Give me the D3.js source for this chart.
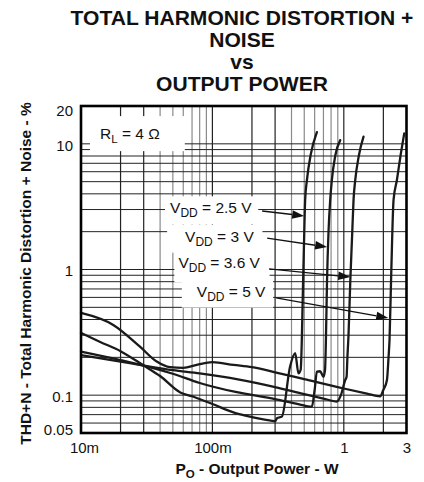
<!DOCTYPE html>
<html><head><meta charset="utf-8">
<script src="https://cdn.jsdelivr.net/npm/d3@7"></script>
<style>
body{margin:0;background:#fff}
svg{display:block}
text{font-family:"Liberation Sans",Arial,Helvetica,sans-serif;fill:#111}
</style>
</head><body><div id="chart"></div>
<script>
// ---------- data ----------
const titleLines = ["TOTAL HARMONIC DISTORTION +", "NOISE", "vs", "OUTPUT POWER"];
const xTickValues = [0.01, 0.1, 1, 3];
const xTickLabels = ["10m", "100m", "1", "3"];
const yTickValues = [0.05, 0.1, 1, 10, 20];
const yTickLabels = ["0.05", "0.1", "1", "10", "20"];
const xAxisMain = "P";
const xAxisSub = "O";
const xAxisRest = " - Output Power - W";
const yAxisTitle = "THD+N - Total Harmonic Distortion + Noise - %";
const loadLabel = ["R", "L", " = 4 \u03A9"];

const seriesVdd = ["2.5 V", "3 V", "3.6 V", "5 V"];

const power_2_5 = [0.01, 0.014, 0.02, 0.03, 0.04, 0.057, 0.07, 0.1, 0.15, 0.2, 0.25, 0.3, 0.31, 0.338, 0.39, 0.4265, 0.452, 0.47, 0.478, 0.487, 0.497, 0.508, 0.524, 0.56, 0.624];
const thd_2_5   = [0.313, 0.265, 0.224, 0.172, 0.142, 0.105, 0.098, 0.085, 0.072, 0.067, 0.064, 0.062, 0.0655, 0.0675, 0.169, 0.216, 0.149, 0.16, 0.25, 0.6, 1.5, 3.58, 5.15, 8.2, 12.4];

const power_3 = [0.01, 0.02, 0.03, 0.05, 0.08, 0.15, 0.3, 0.45, 0.571, 0.6, 0.624, 0.661, 0.70, 0.72, 0.732, 0.745, 0.765, 0.788, 0.811, 0.86, 0.939];
const thd_3   = [0.222, 0.19, 0.172, 0.148, 0.125, 0.106, 0.093, 0.085, 0.081, 0.11, 0.154, 0.155, 0.14, 0.16, 0.3, 0.8, 2, 3.58, 5.15, 8, 10.7];

const power_3_6 = [0.01, 0.02, 0.03, 0.05, 0.08, 0.16, 0.3, 0.5, 0.7, 0.885, 0.95, 1.025, 1.05, 1.065, 1.086, 1.12, 1.16, 1.186, 1.222, 1.3, 1.413];
const thd_3_6   = [0.208, 0.185, 0.172, 0.158, 0.149, 0.133, 0.116, 0.102, 0.094, 0.089, 0.1, 0.132, 0.14, 0.2, 0.3, 0.8, 2, 3.58, 5.15, 8, 11.4];

const power_5 = [0.01, 0.0176, 0.0281, 0.0377, 0.0476, 0.06, 0.076, 0.1, 0.145, 0.2, 0.3, 0.5, 1, 1.5, 1.89, 2.0, 2.13, 2.19, 2.228, 2.3, 2.391, 2.536, 2.7, 2.884];
const thd_5   = [0.451, 0.362, 0.243, 0.185, 0.167, 0.165, 0.174, 0.183, 0.174, 0.167, 0.152, 0.134, 0.113, 0.103, 0.098, 0.11, 0.132, 0.2, 0.275, 1, 3.58, 5.15, 8, 12.1];

// annotation anchors (data units)
const labelP = [0.0476, 0.062, 0.0551, 0.0761];
const labelT = [2.8, 1.666, 1.022, 0.608];
const arrowFromP = [0.239, 0.261, 0.270, 0.3056];
const arrowFromT = [2.92, 1.78, 1.01, 0.594];
const arrowToP = [0.4994, 0.747, 1.119, 2.18];
const arrowToT = [2.67, 1.51, 0.872, 0.412];
const loadLabelP = 0.01395;
const loadLabelT = 10.9;

// ---------- layout ----------
const W = 424, H = 482;
const plot = {left: 81, right: 406.5, top: 106, bottom: 433};
const svg = d3.select("#chart").append("svg").attr("width", W).attr("height", H);

const x = d3.scaleLog().domain([0.01, 3]).range([plot.left, plot.right]);
const y = d3.scaleLog().domain([0.05, 20]).range([plot.bottom, plot.top]);

// title
const titleCx = 242;
svg.append("g").selectAll("text").data(titleLines).join("text")
  .attr("transform", (d, i) => `translate(${titleCx},${24.8 + i * 21.9}) scale(1.08,1)`)
  .attr("text-anchor", "middle").attr("font-weight", "bold").attr("font-size", 19.5)
  .text(d => d);

// grid
const gGrid = svg.append("g");
const isMajorX = v => { const m = Math.round(v / Math.pow(10, Math.floor(Math.log10(v) + 1e-9))); return m === 1 || m === 2 || m === 3; };
gGrid.selectAll("line.vx").data(x.ticks().filter(v => v > 0.0100001 && v < 2.9999)).join("line")
  .attr("x1", d => x(d)).attr("x2", d => x(d)).attr("y1", plot.top).attr("y2", plot.bottom)
  .attr("stroke", d => isMajorX(d) ? "#222" : "#8a8a8a").attr("stroke-width", 1.2);
gGrid.selectAll("line.hy").data(y.ticks().filter(v => v > 0.0500001 && v < 19.999)).join("line")
  .attr("x1", plot.left).attr("x2", plot.right).attr("y1", d => y(d)).attr("y2", d => y(d))
  .attr("stroke", "#222").attr("stroke-width", 1);

// white label boxes
const gBoxes = svg.append("g");
const gCurves = svg.append("g");
const gAnn = svg.append("g");

// load label
const rl = gAnn.append("text").attr("x", x(loadLabelP)).attr("y", y(loadLabelT)).attr("font-size", 15.5);
rl.append("tspan").text(loadLabel[0]);
rl.append("tspan").attr("font-size", 11.5).attr("dy", 4).text(loadLabel[1]);
rl.append("tspan").attr("dy", -4).text(loadLabel[2]);
{
  const b = rl.node().getBBox();
  gBoxes.append("rect").attr("x", plot.left + 9).attr("y", b.y - 9)
    .attr("width", b.x + b.width + 25 - plot.left - 9).attr("height", b.height + 15).attr("fill", "#fff");
}

// Vdd labels
const padL = [5, 18, 4, 15], padR = [6, 8, 9, 7];
const boxTop = [17, 17, 17, 17], boxBot = [11, 11, 14, 11];
seriesVdd.forEach((v, i) => {
  const t = gAnn.append("text").attr("x", x(labelP[i])).attr("y", y(labelT[i])).attr("font-size", 15.5);
  t.append("tspan").text("V");
  t.append("tspan").attr("font-size", 12).attr("dy", 4).text("DD");
  t.append("tspan").attr("dy", -4).text(" = " + v);
  const b = t.node().getBBox();
  const by = y(labelT[i]);
  gBoxes.append("rect").attr("x", b.x - padL[i]).attr("y", by - boxTop[i])
    .attr("width", b.width + padL[i] + padR[i]).attr("height", boxTop[i] + boxBot[i]).attr("fill", "#fff");

  const x1 = x(arrowFromP[i]), y1 = y(arrowFromT[i]), x2 = x(arrowToP[i]), y2 = y(arrowToT[i]);
  const ang = Math.atan2(y2 - y1, x2 - x1), L = 12, Wd = 4.2;
  const bx = x2 - L * Math.cos(ang), byy = y2 - L * Math.sin(ang);
  gAnn.append("line").attr("x1", x1).attr("y1", y1).attr("x2", bx).attr("y2", byy)
    .attr("stroke", "#111").attr("stroke-width", 1.3);
  gAnn.append("path").attr("d", `M${x2},${y2}L${bx + Wd * Math.sin(ang)},${byy - Wd * Math.cos(ang)}L${bx - Wd * Math.sin(ang)},${byy + Wd * Math.cos(ang)}Z`)
    .attr("fill", "#111");
});

// curves
const series = [[power_2_5, thd_2_5], [power_3, thd_3], [power_3_6, thd_3_6], [power_5, thd_5]];
const line = d3.line().x(d => x(d[0])).y(d => y(d[1])).curve(d3.curveMonotoneX);
gCurves.selectAll("path").data(series).join("path")
  .attr("d", s => line(s[0].map((p, i) => [p, s[1][i]])))
  .attr("fill", "none").attr("stroke", "#1a1a1a").attr("stroke-width", 2.3)
  .attr("stroke-linejoin", "round").attr("stroke-linecap", "round");

// frame
svg.append("rect").attr("x", plot.left).attr("y", plot.top)
  .attr("width", plot.right - plot.left).attr("height", plot.bottom - plot.top)
  .attr("fill", "none").attr("stroke", "#000").attr("stroke-width", 2.6);

// axes
const ax = svg.append("g").attr("transform", `translate(0,${plot.bottom})`)
  .call(d3.axisBottom(x).tickValues(xTickValues).tickFormat((d, i) => xTickLabels[i]).tickSize(0).tickPadding(9.5));
ax.select(".domain").remove();
ax.selectAll("text").attr("font-size", 15).attr("font-family", "Liberation Sans, Arial, sans-serif").attr("fill", "#111")
  .attr("dx", d => d <= 0.01 ? 3 : 0);

const ay = svg.append("g").attr("transform", `translate(${plot.left},0)`)
  .call(d3.axisLeft(y).tickValues(yTickValues).tickFormat((d, i) => yTickLabels[i]).tickSize(0).tickPadding(8));
ay.select(".domain").remove();
ay.selectAll("text").attr("font-size", 15).attr("font-family", "Liberation Sans, Arial, sans-serif").attr("fill", "#111")
  .attr("dy", d => d >= 20 ? "0.62em" : (d <= 0.05 ? "0.1em" : "0.42em"));

// axis titles
const xt = svg.append("text").attr("x", 257).attr("y", 474).attr("text-anchor", "middle")
  .attr("font-weight", "bold").attr("font-size", 15.5);
xt.append("tspan").text(xAxisMain);
xt.append("tspan").attr("font-size", 11.5).attr("dy", 4).text(xAxisSub);
xt.append("tspan").attr("dy", -4).text(xAxisRest);

svg.append("text").attr("transform", `translate(31,${(plot.top + plot.bottom) / 2 + 4}) rotate(-90)`)
  .attr("text-anchor", "middle").attr("font-weight", "bold").attr("font-size", 15.5)
  .text(yAxisTitle);
</script>
</body></html>
